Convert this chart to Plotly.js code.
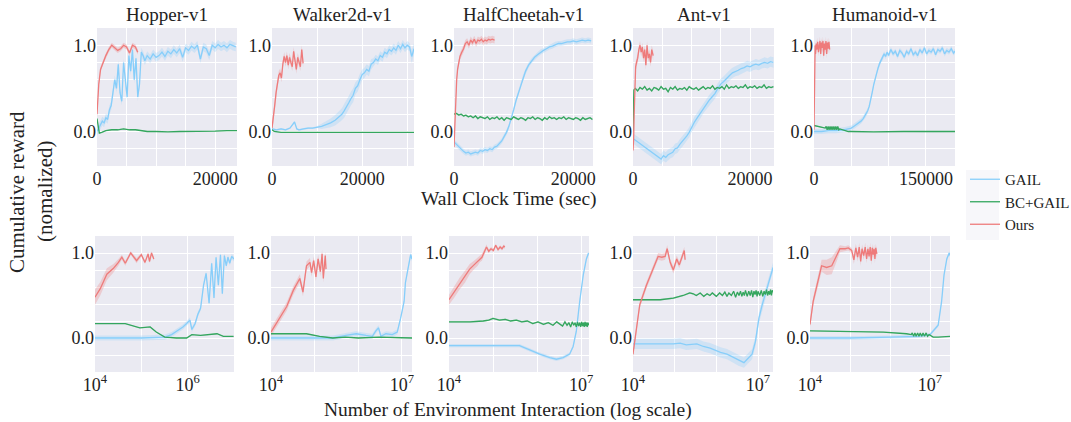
<!DOCTYPE html>
<html>
<head>
<meta charset="utf-8">
<script src="https://cdn.plot.ly/plotly-3.0.1.min.js"></script>
<style>html,body{margin:0;padding:0;background:#fff;}#chart{width:1071px;height:422px;}</style>
</head>
<body>
<div id="chart"></div>
<script>
// ---------------- DATA ----------------
const envs = ['Hopper-v1', 'Walker2d-v1', 'HalfCheetah-v1', 'Ant-v1', 'Humanoid-v1'];
const methods = ['GAIL', 'BC+GAIL', 'Ours'];

// ---- Top row: wall clock time (sec) ----
const hopperWallGailX = [0,300,600,900,1200,1500,1800,2100,2400,2700,3000,3300,3600,3900,4200,4500,4800,5100,5400,5700,6000,6300,6600,6900,7200,7500,7800,8100,8500,9000,9500,10000,10500,11000,11500,12000,12500,13000,13500,14000,14500,15000,15500,16000,16500,17000,17500,18000,18500,19000,19500,20000,20500,21000,21500,22000,22500,23000,23500];
const hopperWallGailY = [0.0,0.05,0.08,0.12,0.1,0.16,0.14,0.25,0.3,0.45,0.6,0.5,0.78,0.45,0.35,0.8,0.55,0.4,0.88,0.7,0.95,0.6,0.85,0.4,0.55,0.92,0.88,0.82,0.88,0.84,0.9,0.86,0.88,0.92,0.87,0.93,0.9,0.95,0.91,0.96,0.86,0.97,0.94,0.99,0.96,1.0,0.84,0.98,0.96,0.88,1.0,0.97,1.01,0.98,1.0,0.97,1.01,0.99,0.98];
const hopperWallGailSd = 0.05;
const hopperWallBcX = [0,200,400,800,1500,2500,3500,4500,5500,6500,7500,8500,10000,12000,14000,16000,18000,20000,22000,23700];
const hopperWallBcY = [0.15,0.05,-0.02,-0.01,0.01,0.02,0.02,0.03,0.02,0.02,0.01,0.0,0.0,-0.005,0.0,0.0,0.005,0.005,0.01,0.01];
const hopperWallBcSd = 0.005;
const hopperWallOursX = [0,300,600,1000,1500,2000,2500,3000,3500,4000,4500,5000,5500,6000,6500,6900];
const hopperWallOursY = [0.2,0.55,0.72,0.8,0.88,0.95,1.0,0.97,0.94,0.96,1.0,0.98,0.91,1.0,0.98,0.92];
const hopperWallOursSd = 0.03;

const walkerWallGailX = [0,1000,2000,3000,4000,4500,5000,5500,6000,7000,8000,9000,10000,11000,12000,13000,14000,15000,15500,16000,16500,17000,17500,18000,18500,19000,19500,20000,20500,21000,21500,22000,22500,23000,23500,24000,24500,25000,25500,26000,26500,27000,27500,28000,28500,29000,29500,30000,30500,31000,31500];
const walkerWallGailY = [0.03,0.02,0.03,0.02,0.04,0.08,0.11,0.03,0.02,0.03,0.04,0.04,0.05,0.06,0.08,0.1,0.13,0.18,0.2,0.24,0.28,0.33,0.38,0.42,0.5,0.53,0.6,0.66,0.68,0.72,0.7,0.78,0.8,0.84,0.82,0.88,0.86,0.92,0.9,0.95,0.93,0.97,0.94,1.0,0.96,1.01,0.97,1.0,0.98,0.87,0.96];
const walkerWallGailSd = [0.01,0.01,0.01,0.01,0.01,0.01,0.01,0.01,0.01,0.01,0.01,0.01,0.01,0.03,0.04,0.05,0.06,0.07,0.07,0.08,0.08,0.08,0.08,0.08,0.07,0.07,0.07,0.06,0.06,0.06,0.06,0.06,0.05,0.05,0.05,0.05,0.05,0.05,0.05,0.05,0.05,0.05,0.05,0.05,0.05,0.05,0.05,0.05,0.05,0.08,0.06];
const walkerWallBcX = [0,500,2000,5000,10000,15000,20000,25000,31500];
const walkerWallBcY = [0.02,0.0,-0.01,-0.01,-0.01,-0.01,-0.01,-0.01,-0.01];
const walkerWallBcSd = 0.005;
const walkerWallOursX = [0,300,600,900,1200,1500,1800,2100,2400,2700,3000,3300,3600,3900,4200,4500,4800,5100,5400,5700,6000,6300,6600,6900];
const walkerWallOursY = [0.04,0.15,0.3,0.45,0.55,0.65,0.68,0.62,0.78,0.87,0.8,0.88,0.77,0.86,0.8,0.75,0.93,0.82,0.72,0.86,0.8,0.75,0.95,0.79];
const walkerWallOursSd = 0.05;

const cheetahWallGailX = [0,400,800,1200,1600,2000,2400,2800,3200,3600,4000,4400,4800,5200,5600,6000,6400,6800,7200,7600,8000,8400,8800,9200,9600,10000,10400,10800,11200,11600,12000,12500,13000,13500,14000,14500,15000,15500,16000,16500,17000,17500,18000,18500,19000,19500,20000,20500,21000,21500,22000,22500,23000];
const cheetahWallGailY = [-0.12,-0.15,-0.18,-0.21,-0.23,-0.25,-0.24,-0.26,-0.25,-0.24,-0.25,-0.22,-0.23,-0.21,-0.22,-0.2,-0.21,-0.18,-0.17,-0.14,-0.11,-0.06,-0.01,0.06,0.15,0.25,0.36,0.45,0.55,0.63,0.7,0.77,0.82,0.86,0.89,0.92,0.94,0.96,0.98,0.99,1.01,1.02,1.02,1.03,1.04,1.04,1.05,1.04,1.05,1.06,1.05,1.06,1.05];
const cheetahWallGailSd = 0.03;
const cheetahWallBcX = [0,400,800,1200,1600,2000,2400,2800,3200,3600,4000,4400,4800,5200,5600,6000,6400,6800,7200,7600,8000,8400,8800,9200,9600,10000,10400,10800,11200,11600,12000,12400,12800,13200,13600,14000,14400,14800,15200,15600,16000,16400,16800,17200,17600,18000,18400,18800,19200,19600,20000,20400,20800,21200,21600,22000,22400,22800,23200];
const cheetahWallBcY = [0.2,0.21,0.19,0.2,0.18,0.19,0.17,0.18,0.16,0.18,0.15,0.17,0.16,0.15,0.17,0.14,0.16,0.15,0.17,0.14,0.16,0.13,0.16,0.15,0.14,0.17,0.15,0.14,0.16,0.15,0.13,0.16,0.15,0.17,0.14,0.16,0.15,0.13,0.16,0.14,0.17,0.15,0.16,0.14,0.16,0.15,0.17,0.14,0.16,0.15,0.14,0.16,0.15,0.13,0.16,0.14,0.15,0.16,0.14];
const cheetahWallBcSd = 0.01;
const cheetahWallOursX = [0,150,300,450,600,800,1000,1300,1600,1900,2200,2500,2800,3100,3400,3700,4000,4300,4600,4900,5200,5500,5800,6100,6400,6800];
const cheetahWallOursY = [-0.18,0.1,0.4,0.6,0.72,0.8,0.87,0.92,0.96,1.02,1.04,1.0,1.06,1.03,1.07,1.02,1.06,1.05,1.07,1.04,1.06,1.05,1.07,1.06,1.07,1.06];
const cheetahWallOursSd = 0.04;

const antWallGailX = [0,400,800,1200,1600,2000,2400,2800,3200,3600,4000,4400,4800,5200,5600,6000,6400,6800,7200,7600,8000,8400,8800,9200,9600,10000,10500,11000,11500,12000,12500,13000,13500,14000,14500,15000,15500,16000,16500,17000,17500,18000,18500,19000,19500,20000,20500,21000,21500,22000,22500,23000,23500,24000];
const antWallGailY = [-0.08,-0.1,-0.12,-0.14,-0.16,-0.18,-0.21,-0.22,-0.25,-0.27,-0.28,-0.3,-0.32,-0.28,-0.3,-0.27,-0.25,-0.24,-0.2,-0.19,-0.15,-0.12,-0.09,-0.05,-0.01,0.05,0.11,0.16,0.21,0.27,0.31,0.36,0.4,0.44,0.5,0.55,0.58,0.62,0.65,0.68,0.7,0.71,0.73,0.74,0.76,0.75,0.77,0.78,0.77,0.79,0.8,0.79,0.81,0.8];
const antWallGailSd = 0.06;
const antWallBcX = [0,150,400,800,1200,1600,2000,2400,2800,3200,3600,4000,4400,4800,5200,5600,6000,6400,6800,7200,7600,8000,8400,8800,9200,9600,10000,10400,10800,11200,11600,12000,12400,12800,13200,13600,14000,14400,14800,15200,15600,16000,16400,16800,17200,17600,18000,18400,18800,19200,19600,20000,20400,20800,21200,21600,22000,22400,22800,23200,23600,24000];
const antWallBcY = [0.0,0.48,0.5,0.47,0.51,0.49,0.52,0.48,0.5,0.47,0.51,0.5,0.48,0.52,0.49,0.5,0.46,0.51,0.49,0.52,0.48,0.5,0.49,0.51,0.48,0.52,0.5,0.49,0.51,0.48,0.5,0.52,0.49,0.51,0.5,0.53,0.49,0.51,0.5,0.52,0.49,0.54,0.5,0.52,0.51,0.53,0.5,0.52,0.51,0.54,0.5,0.52,0.51,0.53,0.5,0.52,0.51,0.54,0.5,0.52,0.51,0.52];
const antWallBcSd = 0.01;
const antWallOursX = [0,100,200,300,450,600,800,1000,1200,1400,1600,1800,2000,2200,2400,2600,2800,3000,3200,3450];
const antWallOursY = [-0.22,-0.1,0.2,0.5,0.75,0.8,0.85,0.95,1.0,0.92,0.98,0.85,0.95,0.77,1.0,0.85,0.9,0.8,0.95,0.88];
const antWallOursSd = 0.05;

const humanoidWallGailX = [0,10000,20000,30000,40000,45000,50000,55000,60000,63000,66000,69000,72000,74000,76000,78000,80000,82000,84000,86000,88000,90000,92000,94000,96000,98000,100000,103000,106000,109000,112000,115000,118000,121000,124000,127000,130000,133000,136000,139000,142000,145000,148000,151000,154000,157000,160000,163000,166000,169000,172000,175000,178000,181000,184000,187000,189000];
const humanoidWallGailY = [0.0,0.0,0.01,0.01,0.02,0.03,0.04,0.07,0.1,0.12,0.15,0.19,0.24,0.29,0.36,0.45,0.54,0.62,0.69,0.74,0.79,0.83,0.85,0.9,0.87,0.92,0.88,0.95,0.9,0.93,0.87,0.94,0.91,0.86,0.93,0.9,0.96,0.89,0.92,0.88,0.95,0.91,0.97,0.9,0.94,0.92,0.96,0.89,0.95,0.93,0.97,0.9,0.94,0.92,0.96,0.91,0.93];
const humanoidWallGailSd = 0.03;
const humanoidWallBcX = [0,5000,10000,15000,16300,17600,18900,20200,21500,22800,24100,25400,26700,28000,29300,30600,31900,33200,34500,38000,42000,46000,50000,80000,120000,160000,189000];
const humanoidWallBcY = [0.07,0.06,0.05,0.04,0.06,0.02,0.06,0.02,0.06,0.02,0.06,0.02,0.06,0.02,0.06,0.02,0.06,0.02,0.03,0.02,0.01,0.0,0.0,-0.005,0.0,-0.005,0.0];
const humanoidWallBcSd = 0.005;
const humanoidWallOursX = [0,500,1000,1500,2000,3000,4000,5000,6000,7000,8000,9000,10000,11000,12000,13000,14000,15000,16000,17000,18000,19000,20000,21000];
const humanoidWallOursY = [0.02,0.5,0.95,1.0,0.9,1.02,0.95,1.04,0.92,1.0,1.05,0.9,1.03,0.97,1.05,0.88,1.02,0.95,1.05,0.9,1.03,0.96,1.04,0.95];
const humanoidWallOursSd = 0.05;

// ---- Bottom row: number of environment interactions (log scale) ----
const hopperStepGailX = [1e4,1e5,3.2e5,4.5e5,5.75e5,7.9e5,9.5e5,1.12e6,1.23e6,1.45e6,1.66e6,1.9e6,2.2e6,2.5e6,2.9e6,3.3e6,3.7e6,4.1e6,4.6e6,5.1e6,5.6e6,6.2e6,6.8e6,7.4e6,8.1e6,8.9e6,1e7];
const hopperStepGailY = [0.0,0.0,0.01,0.04,0.08,0.13,0.17,0.21,0.1,0.17,0.28,0.35,0.62,0.76,0.41,0.88,0.47,0.95,0.62,0.98,0.52,0.97,0.85,0.95,0.88,0.96,0.93];
const hopperStepGailSd = 0.03;
const hopperStepBcX = [1e4,4.5e4,9.3e4,1.55e5,2.1e5,3.2e5,5.7e5,9.5e5,1.23e6,1.9e6,4.3e6,5.9e6,9.8e6];
const hopperStepBcY = [0.17,0.17,0.12,0.13,0.07,0.01,0.0,0.0,0.04,0.03,0.05,0.02,0.02];
const hopperStepBcSd = 0.005;
const hopperStepOursX = [1e4,1.3e4,1.8e4,2.5e4,3.2e4,3.8e4,4.5e4,5.9e4,7.9e4,1e5,1.2e5,1.4e5,1.5e5,1.66e5,1.86e5];
const hopperStepOursY = [0.48,0.58,0.75,0.82,0.89,0.95,0.88,1.0,0.91,0.98,0.89,0.99,0.9,1.0,0.93];
const hopperStepOursSd = [0.09,0.08,0.07,0.05,0.04,0.03,0.03,0.02,0.03,0.02,0.02,0.02,0.02,0.02,0.02];

const walkerStepGailX = [1e4,1e5,2.6e5,5.2e5,9e5,1.5e6,2.1e6,2.5e6,2.9e6,3.3e6,4.3e6,6e6,7.8e6,9.3e6,1.12e7,1.2e7,1.38e7,1.58e7,1.7e7];
const walkerStepGailY = [0.0,0.0,0.0,0.03,0.05,0.03,0.02,0.08,0.12,0.02,0.05,0.04,0.07,0.23,0.43,0.65,0.82,0.98,0.93];
const walkerStepGailSd = 0.03;
const walkerStepBcX = [1e4,6.5e4,1.3e5,2.6e5,5e5,1e6,3e6,1e7,1.7e7];
const walkerStepBcY = [0.05,0.05,0.02,0.0,0.01,0.0,0.01,0.0,0.0];
const walkerStepBcSd = 0.005;
const walkerStepOursX = [1e4,1.58e4,2.29e4,3.24e4,4.57e4,5.4e4,6.5e4,7.8e4,8.5e4,9.5e4,1.07e5,1.2e5,1.35e5,1.48e5,1.58e5,1.75e5,1.82e5];
const walkerStepOursY = [0.07,0.23,0.37,0.56,0.7,0.54,0.85,0.89,0.77,0.91,0.72,0.93,0.78,0.99,0.7,0.97,0.81];
const walkerStepOursSd = 0.05;

const cheetahStepGailX = [1e4,1e5,4e5,6.8e5,1.15e6,1.95e6,2.75e6,3.9e6,5.5e6,6.6e6,7.8e6,9.3e6,1.12e7,1.32e7,1.48e7];
const cheetahStepGailY = [-0.09,-0.09,-0.09,-0.14,-0.19,-0.23,-0.25,-0.23,-0.19,-0.1,0.08,0.43,0.74,0.93,1.0];
const cheetahStepGailSd = 0.02;
const cheetahStepBcX = [1e4,3e4,6e4,8e4,1e5,1.4e5,1.9e5,2.5e5,3.4e5,4.5e5,6e5,8e5,1.05e6,1.4e6,1.8e6,2.3e6,2.8e6,3.3e6,3.8e6,4.3e6,4.8e6,5.3e6,5.8e6,6.3e6,6.8e6,7.3e6,7.8e6,8.3e6,8.8e6,9.3e6,9.8e6,1.03e7,1.08e7,1.13e7,1.18e7,1.23e7,1.28e7,1.33e7,1.38e7,1.43e7,1.5e7];
const cheetahStepBcY = [0.19,0.19,0.2,0.21,0.23,0.21,0.22,0.2,0.21,0.19,0.2,0.17,0.19,0.16,0.18,0.15,0.19,0.16,0.14,0.19,0.15,0.18,0.13,0.19,0.15,0.18,0.13,0.19,0.14,0.18,0.13,0.19,0.14,0.18,0.13,0.19,0.14,0.18,0.13,0.18,0.15];
const cheetahStepBcSd = 0.01;
const cheetahStepOursX = [1e4,1.3e4,1.74e4,2.3e4,2.95e4,3.7e4,4.5e4,5e4,5.6e4,6.3e4,7.1e4,8e4,9e4,1.02e5,1.15e5,1.3e5,1.45e5,1.6e5,1.75e5,1.86e5];
const cheetahStepOursY = [0.45,0.54,0.64,0.72,0.81,0.86,0.9,0.93,0.95,1.01,1.07,1.02,1.05,1.03,1.09,1.04,1.07,1.05,1.08,1.07];
const cheetahStepOursSd = [0.06,0.07,0.07,0.07,0.06,0.05,0.05,0.04,0.04,0.03,0.03,0.02,0.02,0.02,0.02,0.02,0.02,0.02,0.02,0.02];

const antStepGailX = [1e4,9.3e4,1.35e5,1.9e5,3.4e5,4.9e5,7.1e5,1.26e6,1.8e6,2.6e6,3.5e6,4.6e6,5.5e6,7.2e6,8.7e6,1.05e7,1.26e7,1.55e7,2.04e7,2.3e7];
const antStepGailY = [-0.07,-0.07,-0.06,-0.08,-0.07,-0.1,-0.12,-0.17,-0.19,-0.23,-0.27,-0.29,-0.25,-0.19,-0.04,0.23,0.39,0.54,0.76,0.83];
const antStepGailSd = 0.06;
const antStepBcX = [1e4,4.5e4,9.3e4,1.6e5,2.3e5,2.8e5,3.3e5,4.1e5,5e5,6e5,7e5,8e5,1e6,1.2e6,1.4e6,1.6e6,1.8e6,2e6,2.3e6,2.6e6,2.9e6,3.2e6,3.5e6,3.8e6,4.1e6,4.4e6,4.7e6,5e6,5.5e6,6e6,6.5e6,7e6,7.5e6,8e6,8.5e6,9e6,9.5e6,1e7,1.1e7,1.2e7,1.3e7,1.4e7,1.5e7,1.6e7,1.7e7,1.8e7,1.9e7,2.0e7,2.1e7,2.2e7,2.3e7];
const antStepBcY = [0.45,0.45,0.47,0.5,0.53,0.52,0.5,0.53,0.49,0.52,0.5,0.53,0.49,0.53,0.5,0.54,0.49,0.53,0.5,0.55,0.48,0.54,0.5,0.55,0.49,0.54,0.5,0.56,0.49,0.55,0.5,0.56,0.48,0.55,0.51,0.56,0.49,0.55,0.5,0.56,0.49,0.55,0.51,0.57,0.5,0.55,0.51,0.57,0.5,0.56,0.54];
const antStepBcSd = 0.01;
const antStepOursX = [1e4,1.45e4,2.1e4,3e4,4e4,4.9e4,5.9e4,6.6e4,7.8e4,9.3e4,1.12e5,1.29e5,1.48e5,1.7e5,1.78e5];
const antStepOursY = [-0.19,0.39,0.62,0.81,0.96,0.95,0.96,1.05,0.89,0.8,0.93,0.86,0.95,1.03,0.92];
const antStepOursSd = 0.04;

const humanoidStepGailX = [1e4,1e5,1e6,5e6,1e7,1.2e7,1.6e7,1.95e7,2.24e7,2.63e7,3.02e7,3.16e7];
const humanoidStepGailY = [0.0,0.0,0.01,0.02,0.04,0.08,0.15,0.43,0.74,0.93,1.0,0.97];
const humanoidStepGailSd = 0.02;
const humanoidStepBcX = [1e4,1e5,6.8e5,2.6e6,3.4e6,3.6e6,3.9e6,4.2e6,4.5e6,4.9e6,5.3e6,5.7e6,6.2e6,6.7e6,7.3e6,8e6,8.7e6,9.5e6,1.2e7,1.6e7,2.4e7,3.16e7];
const humanoidStepBcY = [0.085,0.08,0.07,0.05,0.04,0.06,0.02,0.06,0.02,0.06,0.02,0.06,0.02,0.06,0.02,0.06,0.02,0.04,0.01,0.01,0.015,0.02];
const humanoidStepBcSd = 0.005;
const humanoidStepOursX = [1e4,1.2e4,1.95e4,2.6e4,3.5e4,4.7e4,5.6e4,7.6e4,9.1e4,1.1e5,1.25e5,1.4e5,1.55e5,1.7e5,1.85e5,2e5,2.2e5,2.4e5,2.6e5,2.8e5,3e5,3.2e5,3.4e5,3.6e5,3.8e5,4e5,4.2e5,4.4e5,4.7e5];
const humanoidStepOursY = [0.16,0.43,0.85,0.83,0.85,0.97,1.05,1.05,1.06,1.03,0.92,1.06,0.95,1.07,0.9,1.05,0.97,1.07,0.93,1.05,0.96,1.07,0.91,1.06,0.98,1.05,0.93,1.06,0.99];
const humanoidStepOursSd = [0.03,0.05,0.07,0.09,0.1,0.06,0.04,0.03,0.03,0.03,0.05,0.05,0.05,0.05,0.05,0.05,0.05,0.05,0.05,0.05,0.05,0.05,0.05,0.05,0.05,0.05,0.05,0.05,0.05];

// Tick labels and grid positions
const wallTickVals = [[0,20000],[0,20000],[0,20000],[0,20000],[0,150000]];
const wallTickText = [['0','20000'],['0','20000'],['0','20000'],['0','20000'],['0','150000']];
const wallGridVals = [[5000,10000,15000],[10000,30000],[5000,10000,15000],[5000,10000,15000],[50000,100000]];
const wallRange = [23700, 31500, 23300, 24100, 189000];
const stepTickVals = [[1e4,1e6],[1e4,1e7],[1e4,1e7],[1e4,1e7],[1e4,1e7]];
const stepTickText = [['10<sup>4</sup>','10<sup>6</sup>'],['10<sup>4</sup>','10<sup>7</sup>'],['10<sup>4</sup>','10<sup>7</sup>'],['10<sup>4</sup>','10<sup>7</sup>'],['10<sup>4</sup>','10<sup>7</sup>']];
const stepGridVals = [[1e5],[1e5,1e6],[1e5,1e6],[1e5,1e6],[1e5,1e6]];
const stepRangeMax = [7.0, 7.23, 7.18, 7.36, 7.5];
const yTickVals = [0.0, 1.0];
const yTickText = ['0.0', '1.0'];
const yGridVals = [-0.2, 0.2, 0.4, 0.6, 0.8];

const wallData = [
  [[hopperWallGailX,hopperWallGailY,hopperWallGailSd],[hopperWallBcX,hopperWallBcY,hopperWallBcSd],[hopperWallOursX,hopperWallOursY,hopperWallOursSd]],
  [[walkerWallGailX,walkerWallGailY,walkerWallGailSd],[walkerWallBcX,walkerWallBcY,walkerWallBcSd],[walkerWallOursX,walkerWallOursY,walkerWallOursSd]],
  [[cheetahWallGailX,cheetahWallGailY,cheetahWallGailSd],[cheetahWallBcX,cheetahWallBcY,cheetahWallBcSd],[cheetahWallOursX,cheetahWallOursY,cheetahWallOursSd]],
  [[antWallGailX,antWallGailY,antWallGailSd],[antWallBcX,antWallBcY,antWallBcSd],[antWallOursX,antWallOursY,antWallOursSd]],
  [[humanoidWallGailX,humanoidWallGailY,humanoidWallGailSd],[humanoidWallBcX,humanoidWallBcY,humanoidWallBcSd],[humanoidWallOursX,humanoidWallOursY,humanoidWallOursSd]]
];
const stepData = [
  [[hopperStepGailX,hopperStepGailY,hopperStepGailSd],[hopperStepBcX,hopperStepBcY,hopperStepBcSd],[hopperStepOursX,hopperStepOursY,hopperStepOursSd]],
  [[walkerStepGailX,walkerStepGailY,walkerStepGailSd],[walkerStepBcX,walkerStepBcY,walkerStepBcSd],[walkerStepOursX,walkerStepOursY,walkerStepOursSd]],
  [[cheetahStepGailX,cheetahStepGailY,cheetahStepGailSd],[cheetahStepBcX,cheetahStepBcY,cheetahStepBcSd],[cheetahStepOursX,cheetahStepOursY,cheetahStepOursSd]],
  [[antStepGailX,antStepGailY,antStepGailSd],[antStepBcX,antStepBcY,antStepBcSd],[antStepOursX,antStepOursY,antStepOursSd]],
  [[humanoidStepGailX,humanoidStepGailY,humanoidStepGailSd],[humanoidStepBcX,humanoidStepBcY,humanoidStepBcSd],[humanoidStepOursX,humanoidStepOursY,humanoidStepOursSd]]
];

// ---------------- STYLE / LAYOUT ----------------
const W = 1071, H = 422;
const FONT = '"Liberation Serif", "Times New Roman", serif';
const lineColors = ['#87CEFA', '#34A65E', '#EE7B7B'];
const bandColors = ['rgba(135,206,250,0.28)', 'rgba(52,166,94,0.25)', 'rgba(238,123,123,0.28)'];
const topCols = [[97,237],[272,414],[454,593],[633,774],[814,955]];
const botCols = [[95,234],[271,412],[449,589],[633,773],[810,950]];
const topRow = [28,166], botRow = [236,372];

const traces = [];
const layout = {
  width: W, height: H,
  margin: {l:0, r:0, t:0, b:0, autoexpand: false},
  paper_bgcolor: '#ffffff',
  plot_bgcolor: '#EAEAF2',
  font: {family: FONT, size: 18, color: '#222'},
  showlegend: true,
  legend: {x: 965/W, y: 1 - 163/H, xanchor: 'left', yanchor: 'top', bgcolor: 'rgba(0,0,0,0)',
           font: {family: FONT, size: 15, color: '#222'}, tracegroupgap: 9, traceorder: 'normal'},
  annotations: [], shapes: []
};

function axisName(k, p) { return p + (k === 1 ? '' : k); }

function addPanel(k, cols, rows, data, isLog, i) {
  const xa = axisName(k, 'x'), ya = axisName(k, 'y');
  data.forEach((s, m) => {
    const [xs, ys, sd] = s;
    const up = ys.map((v, j) => v + (Array.isArray(sd) ? sd[j] : sd));
    const lo = ys.map((v, j) => v - (Array.isArray(sd) ? sd[j] : sd));
    traces.push({x: xs.concat(xs.slice().reverse()), y: up.concat(lo.reverse()), xaxis: xa, yaxis: ya,
      type: 'scatter', mode: 'lines', fill: 'toself', fillcolor: bandColors[m], line: {width: 0},
      hoverinfo: 'skip', showlegend: false});
  });
  data.forEach((s, m) => {
    const [xs, ys] = s;
    traces.push({x: xs, y: ys, xaxis: xa, yaxis: ya, type: 'scatter', mode: 'lines',
      line: {color: lineColors[m], width: 1.3}, name: methods[m], legendgroup: methods[m],
      showlegend: k === 1});
  });
  const xk = 'xaxis' + (k === 1 ? '' : k), yk = 'yaxis' + (k === 1 ? '' : k);
  layout[xk] = {
    domain: [cols[0]/W, cols[1]/W], anchor: ya,
    type: isLog ? 'log' : 'linear',
    range: isLog ? [4, stepRangeMax[i]] : [0, wallRange[i]],
    tickmode: 'array',
    tickvals: isLog ? stepTickVals[i] : wallTickVals[i],
    ticktext: isLog ? stepTickText[i] : wallTickText[i],
    showgrid: true, gridcolor: '#ffffff', gridwidth: 1, zeroline: false, showline: false, ticks: '',
    minor: {tickmode: 'array', tickvals: isLog ? stepGridVals[i] : wallGridVals[i], showgrid: true,
            gridcolor: '#ffffff', gridwidth: 1, ticks: ''},
    tickfont: {family: FONT, size: 18, color: '#222'}, fixedrange: true
  };
  layout[yk] = {
    domain: [1 - rows[1]/H, 1 - rows[0]/H], anchor: xa,
    range: [-0.4, 1.2], tickmode: 'array', tickvals: yTickVals, ticktext: yTickText,
    showgrid: true, gridcolor: '#ffffff', gridwidth: 1, zeroline: false, showline: false, ticks: '',
    minor: {tickmode: 'array', tickvals: yGridVals, showgrid: true, gridcolor: '#ffffff', gridwidth: 1, ticks: ''},
    tickfont: {family: FONT, size: 18, color: '#222'}, fixedrange: true
  };
}

for (let i = 0; i < 5; i++) {
  addPanel(i + 1, topCols[i], topRow, wallData[i], false, i);
  addPanel(i + 6, botCols[i], botRow, stepData[i], true, i);
  layout.annotations.push({text: envs[i], xref: 'paper', yref: 'paper',
    x: (topCols[i][0] + topCols[i][1]) / 2 / W, y: 1 - 14/H, xanchor: 'center', yanchor: 'middle',
    showarrow: false, font: {family: FONT, size: 19, color: '#222'}});
}

layout.annotations.push({text: 'Wall Clock Time (sec)', xref: 'paper', yref: 'paper', x: 509/W, y: 1 - 199/H,
  xanchor: 'center', yanchor: 'middle', showarrow: false, font: {family: FONT, size: 19.5, color: '#222'}});
layout.annotations.push({text: 'Number of Environment Interaction (log scale)', xref: 'paper', yref: 'paper', x: 508/W, y: 1 - 410/H,
  xanchor: 'center', yanchor: 'middle', showarrow: false, font: {family: FONT, size: 19.5, color: '#222'}});
layout.annotations.push({text: 'Cumulative reward', xref: 'paper', yref: 'paper', x: 17/W, y: 1 - 192/H, textangle: -90,
  xanchor: 'center', yanchor: 'middle', showarrow: false, font: {family: FONT, size: 21, color: '#222'}});
layout.annotations.push({text: '(nomalized)', xref: 'paper', yref: 'paper', x: 45/W, y: 1 - 192/H, textangle: -90,
  xanchor: 'center', yanchor: 'middle', showarrow: false, font: {family: FONT, size: 21, color: '#222'}});

layout.shapes.push({type: 'rect', xref: 'paper', yref: 'paper', x0: 966/W, x1: 999/W, y0: 1 - 240/H, y1: 1 - 170/H,
  fillcolor: '#F7F7FA', line: {width: 0}, layer: 'below'});

Plotly.newPlot('chart', traces, layout, {staticPlot: true, displayModeBar: false});
</script>
</body>
</html>
